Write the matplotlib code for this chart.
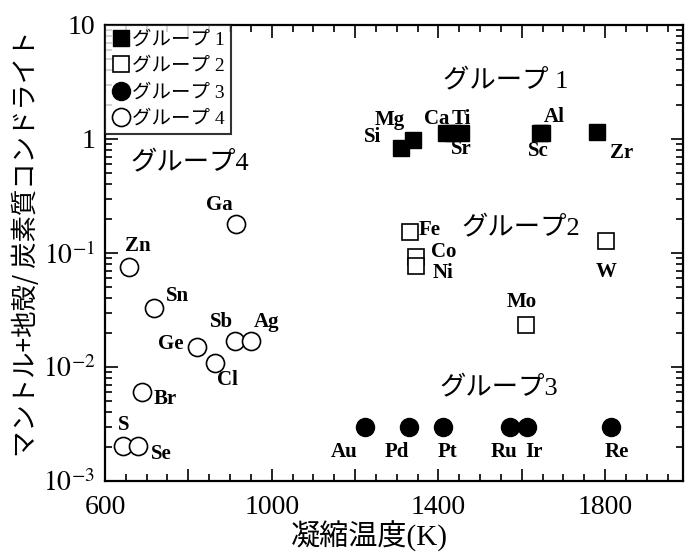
import matplotlib
matplotlib.use('Agg')
import matplotlib.pyplot as plt
from matplotlib.ticker import FixedLocator, MultipleLocator, LogLocator, NullFormatter, FixedFormatter

plt.rcParams['font.family'] = ['Liberation Serif', 'Noto Sans CJK JP']
plt.rcParams['mathtext.fontset'] = 'stix'

# group 1 (filled squares)
g1_el = ['Si', 'Mg', 'Ca', 'Sr', 'Ti', 'Al', 'Sc', 'Zr']
g1_t = [1311, 1338, 1418, 1436, 1455, 1648, 1644, 1781]
g1_v = [0.83, 0.98, 1.14, 1.14, 1.14, 1.14, 1.14, 1.15]
# group 2 (open squares)
g2_el = ['Fe', 'Co', 'Ni', 'W', 'Mo']
g2_t = [1333, 1347, 1347, 1802, 1610]
g2_v = [0.154, 0.092, 0.077, 0.127, 0.0233]
# group 3 (filled circles)
g3_el = ['Au', 'Pd', 'Pt', 'Ru', 'Ir', 'Re']
g3_t = [1225, 1330, 1410, 1572, 1612, 1814]
g3_v = [0.003, 0.003, 0.003, 0.003, 0.003, 0.003]
# group 4 (open circles)
g4_el = ['Ga', 'Zn', 'Sn', 'Ge', 'Cl', 'Sb', 'Ag', 'Br', 'S', 'Se']
g4_t = [915, 658, 717, 821, 863, 911, 951, 688, 644, 680]
g4_v = [0.179, 0.075, 0.0327, 0.0151, 0.0109, 0.0169, 0.0169, 0.00607, 0.00204, 0.00204]

group_names = ['グループ 1', 'グループ 2', 'グループ 3', 'グループ 4']
yticks = [1e-3, 1e-2, 1e-1, 1, 10]
ytick_labels = ['$10^{-3}$', '$10^{-2}$', '$10^{-1}$', '1', '10']
xticks = [600, 800, 1000, 1200, 1400, 1600, 1800]
xtick_labels = ['600', '', '1000', '', '1400', '', '1800']

# label offsets in pixels (dx, dy)
offs = {
    'Si': (-29, 11), 'Mg': (-23, 20), 'Ca': (-9, 14), 'Ti': (0, 14), 'Sr': (8, -16),
    'Al': (13, 16), 'Sc': (-2, -18), 'Zr': (24, -21),
    'Fe': (19, 2), 'Co': (27, 5), 'Ni': (27, -7), 'W': (0, -31), 'Mo': (-4, 23),
    'Au': (-21, -25), 'Pd': (-12, -25), 'Pt': (5, -25), 'Ru': (-6, -25), 'Ir': (7, -25), 'Re': (6, -25),
    'Ga': (-17, 19), 'Zn': (9, 21), 'Sn': (24, 12), 'Ge': (-26, 3), 'Cl': (13, -17),
    'Sb': (-13, 19), 'Ag': (15, 19), 'Br': (24, -7), 'S': (0, 21), 'Se': (23, -8),
}

fig = plt.figure(figsize=(6.88, 5.53), dpi=100)
ax = fig.add_axes([0.1526, 0.1302, 0.8401, 0.8246])

ax.plot(g1_t, g1_v, 's', color='black', ms=11, ls='none', label=group_names[0])
ax.plot(g2_t, g2_v, 's', mfc='white', mec='black', mew=1.2, ms=11, ls='none', label=group_names[1])
ax.plot(g3_t, g3_v, 'o', color='black', ms=13, ls='none', label=group_names[2])
ax.plot(g4_t, g4_v, 'o', mfc='white', mec='black', mew=1.2, ms=13, ls='none', label=group_names[3])

for els, ts, vs in [(g1_el, g1_t, g1_v), (g2_el, g2_t, g2_v), (g3_el, g3_t, g3_v), (g4_el, g4_t, g4_v)]:
    for e, t, v in zip(els, ts, vs):
        ax.annotate(e, (t, v), xytext=offs[e], textcoords='offset pixels',
                    ha='center', va='center', fontsize=15, fontweight='bold',
                    family='Liberation Serif')

ax.text(1562, 3.18, 'グループ 1', ha='center', va='center', fontsize=19)
ax.text(804, 0.612, 'グループ4', ha='center', va='center', fontsize=19)
ax.text(1598, 0.165, 'グループ2', ha='center', va='center', fontsize=19)
ax.text(1546, 0.0065, 'グループ3', ha='center', va='center', fontsize=19)

ax.set_yscale('log')
ax.set_xlim(600, 1987)
ax.set_ylim(1e-3, 10)
ax.set_xticks(xticks)
ax.set_xticklabels(xtick_labels)
ax.xaxis.set_minor_locator(MultipleLocator(50))
ax.yaxis.set_major_locator(FixedLocator(yticks))
ax.yaxis.set_major_formatter(FixedFormatter(ytick_labels))
ax.yaxis.set_minor_locator(LogLocator(base=10, subs=range(2, 10)))
ax.yaxis.set_minor_formatter(NullFormatter())
ax.tick_params(which='both', direction='in', top=True, right=True, labelsize=20, width=1.2)
ax.tick_params(which='major', length=9)
ax.tick_params(which='minor', length=5)
ax.tick_params(axis='x', which='major', pad=10)
ax.tick_params(axis='y', which='major', pad=7)
for s in ax.spines.values():
    s.set_linewidth(1.6)

ax.set_xlabel('凝縮温度(K)', fontsize=21, labelpad=1, x=0.458)
ax.set_ylabel('マントル+地殻/ 炭素質コンドライト', fontsize=19,
              family=['Noto Sans CJK JP', 'DejaVu Sans'])
ax.yaxis.set_label_coords(-0.112, 0.52)

leg = ax.legend(loc='upper left', borderaxespad=0, fontsize=14, frameon=True, fancybox=False,
                handletextpad=0.1, handlelength=1.0, borderpad=0.3, labelspacing=0.45,
                markerscale=1.0)
leg.get_frame().set_edgecolor('black')
leg.get_frame().set_linewidth(1.5)

fig.savefig('out.png', dpi=100)
